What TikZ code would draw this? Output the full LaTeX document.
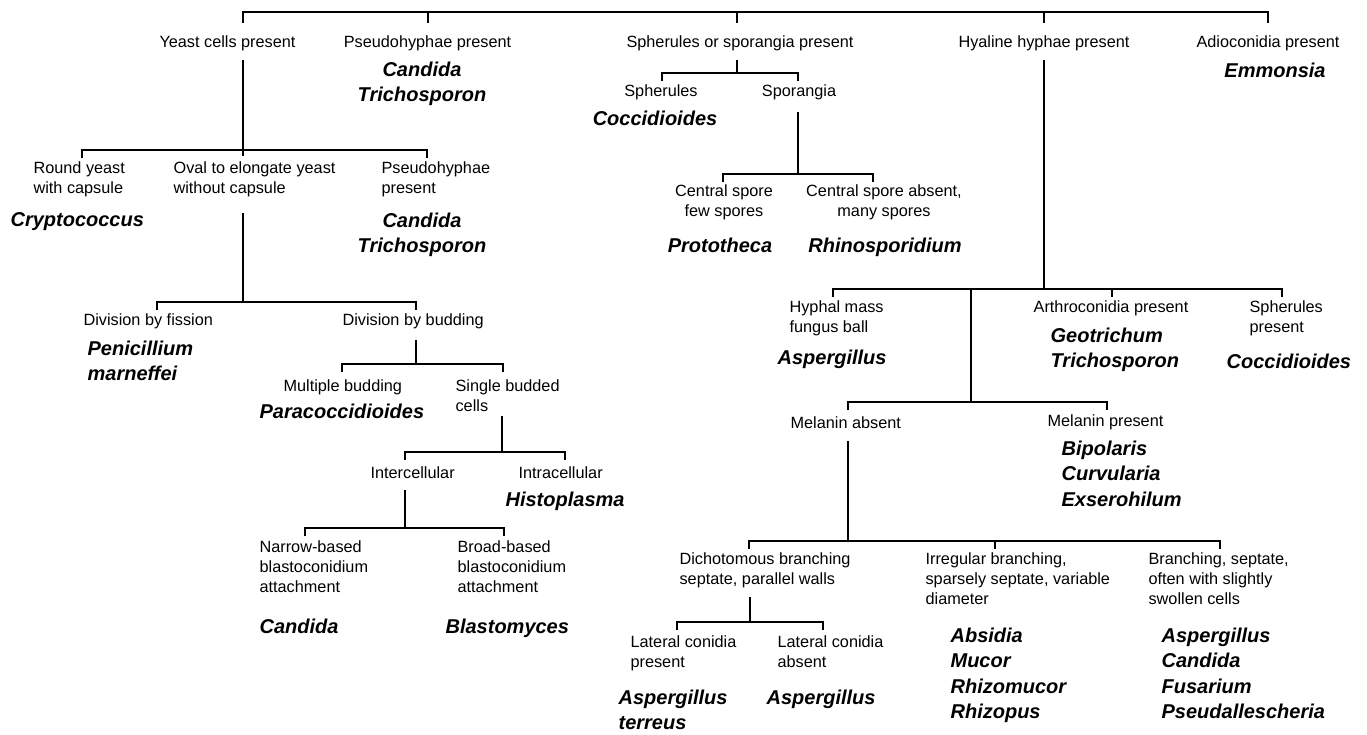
\documentclass[tikz,border=0pt]{standalone}
\usepackage{fontspec}
\setmainfont{Liberation Sans}
\usetikzlibrary{positioning}

\begin{document}
\begin{tikzpicture}[x=0.75pt, y=-0.75pt, line width=0.9pt,
    cue/.style={inner sep=0pt, align=left, font=\fontsize{12.2}{15}\selectfont},
    genus/.style={inner sep=0pt, align=left, font=\fontsize{15}{19.1}\selectfont\bfseries\itshape}]
\useasboundingbox (0,0) rectangle (1367,735);

% First level
\node[cue, anchor=north] (yeast) at (227.5,35.5) {Yeast cells present};
\node[cue, anchor=north] (pseudo) at (427.5,35.5) {Pseudohyphae present};
\node[cue, anchor=north] (spher) at (740,35.5) {Spherules or sporangia present};
\node[cue, anchor=north] (hyaline) at (1044,35.5) {Hyaline hyphae present};
\node[cue, anchor=north] (adio) at (1268,35.5) {Adioconidia present};
\node[genus, align=center, anchor=north] (candidaA) at (422,61) {Candida\\Trichosporon};
\node[genus, anchor=north] (emmonsia) at (1275,62) {Emmonsia};

% Yeast cells
\node[cue, anchor=north west] (round) at (33,161.5) {Round yeast\\with capsule};
\node[cue, anchor=north west] (oval) at (173,161.5) {Oval to elongate yeast\\without capsule};
\node[cue, anchor=north west] (pseudoB) at (381,161.5) {Pseudohyphae\\present};
\node[genus, anchor=north west] (crypto) at (10,212) {Cryptococcus};
\node[genus, align=center, anchor=north] (candidaB) at (422,212) {Candida\\Trichosporon};

% Oval yeast
\node[cue, anchor=north west] (fission) at (83,313.5) {Division by fission};
\node[genus, anchor=north west] (penicillium) at (87,340) {Penicillium\\marneffei};
\node[cue, anchor=north west] (budding) at (342,313.5) {Division by budding};
\node[cue, anchor=north west] (multiple) at (283,379.5) {Multiple budding};
\node[genus, anchor=north west] (paracocci) at (259,403) {Paracoccidioides};
\node[cue, anchor=north west] (single) at (455,379.5) {Single budded\\cells};
\node[cue, anchor=north west] (inter) at (370,466.5) {Intercellular};
\node[cue, anchor=north west] (intra) at (518,466.5) {Intracellular};
\node[genus, anchor=north west] (histo) at (505,491) {Histoplasma};
\node[cue, anchor=north west] (narrow) at (259,540.5) {Narrow-based\\blastoconidium\\attachment};
\node[genus, anchor=north west] (candidaC) at (259,618) {Candida};
\node[cue, anchor=north west] (broad) at (457,540.5) {Broad-based\\blastoconidium\\attachment};
\node[genus, anchor=north west] (blasto) at (445,618) {Blastomyces};

% Spherules or sporangia
\node[cue, anchor=north] (spherules) at (661,84.5) {Spherules};
\node[cue, anchor=north] (sporangia) at (799,84.5) {Sporangia};
\node[genus, anchor=north] (cocciA) at (655,110) {Coccidioides};
\node[cue, align=center, anchor=north] (central) at (724,184.5) {Central spore\\few spores};
\node[cue, align=center, anchor=north] (absent) at (884,184.5) {Central spore absent,\\many spores};
\node[genus, anchor=north] (prototheca) at (720,237) {Prototheca};
\node[genus, anchor=north] (rhino) at (885,237) {Rhinosporidium};

% Hyaline hyphae
\node[cue, anchor=north west] (hyphal) at (789,300.5) {Hyphal mass\\fungus ball};
\node[genus, anchor=north west] (asperA) at (777,349) {Aspergillus};
\node[cue, anchor=north] (arthro) at (1111,300.5) {Arthroconidia present};
\node[genus, anchor=north west] (geo) at (1050,327) {Geotrichum\\Trichosporon};
\node[cue, anchor=north west] (spherP) at (1249,300.5) {Spherules\\present};
\node[genus, anchor=north west] (cocciB) at (1226,353) {Coccidioides};
\node[cue, anchor=north west] (melA) at (790,416.5) {Melanin absent};
\node[cue, anchor=north west] (melP) at (1047,414.5) {Melanin present};
\node[genus, anchor=north west] (bipolaris) at (1061,440) {Bipolaris\\Curvularia\\Exserohilum};

% Melanin absent
\node[cue, anchor=north west] (dicho) at (679,552.5) {Dichotomous branching\\septate, parallel walls};
\node[cue, anchor=north west] (irreg) at (925,552.5) {Irregular branching,\\sparsely septate, variable\\diameter};
\node[cue, anchor=north west] (branch) at (1148,552.5) {Branching, septate,\\often with slightly\\swollen cells};
\node[genus, anchor=north west] (absidia) at (950,627) {Absidia\\Mucor\\Rhizomucor\\Rhizopus};
\node[genus, anchor=north west] (asperC) at (1161,627) {Aspergillus\\Candida\\Fusarium\\Pseudallescheria};
\node[cue, anchor=north west] (latP) at (630,635.5) {Lateral conidia\\present};
\node[genus, anchor=north west] (terreus) at (618,689) {Aspergillus\\terreus};
\node[cue, anchor=north west] (latA) at (777,635.5) {Lateral conidia\\absent};
\node[genus, anchor=north west] (asperB) at (766,689) {Aspergillus};

% Top bracket
\coordinate (yeast-in) at (243,23);
\coordinate (pseudo-in) at (428,23);
\coordinate (spher-in) at (737,23);
\coordinate (hyaline-in) at (1044,23);
\coordinate (adio-in) at (1268,23);
\draw (yeast-in) -- ++(0,-11) -| (adio-in);
\foreach \c in {pseudo,spher,hyaline}
    \draw (\c-in) -- ++(0,-11);

% Yeast bracket
\coordinate (yeast-out) at (243,60);
\coordinate (yeast-jn) at (243,150);
\coordinate (round-in) at (82,158);
\coordinate (oval-in) at (243,156);
\coordinate (pseudoB-in) at (427,158);
\draw (yeast-out) -- (oval-in);
\draw (round-in) |- (yeast-jn) -| (pseudoB-in);

% Oval bracket
\coordinate (oval-out) at (243,213);
\coordinate (oval-jn) at (243,302);
\coordinate (fission-in) at (157,310);
\coordinate (budding-in) at (416,310);
\draw (oval-out) -- (oval-jn);
\draw (fission-in) |- (oval-jn) -| (budding-in);

% Budding bracket
\coordinate (budding-out) at (416,340);
\coordinate (budding-jn) at (416,364);
\coordinate (multiple-in) at (342,372);
\coordinate (single-in) at (503,372);
\draw (budding-out) -- (budding-jn);
\draw (multiple-in) |- (budding-jn) -| (single-in);

% Single budded bracket
\coordinate (single-out) at (502,416);
\coordinate (single-jn) at (502,452);
\coordinate (inter-in) at (405,460);
\coordinate (intra-in) at (565,460);
\draw (single-out) -- (single-jn);
\draw (inter-in) |- (single-jn) -| (intra-in);

% Intercellular bracket
\coordinate (inter-out) at (405,490);
\coordinate (inter-jn) at (405,528);
\coordinate (narrow-in) at (305,536);
\coordinate (broad-in) at (504,536);
\draw (inter-out) -- (inter-jn);
\draw (narrow-in) |- (inter-jn) -| (broad-in);

% Spherules bracket
\coordinate (spher-out) at (737,60);
\coordinate (spher-jn) at (737,73);
\coordinate (spherules-in) at (662,81);
\coordinate (sporangia-in) at (798,81);
\draw (spher-out) -- (spher-jn);
\draw (spherules-in) |- (spher-jn) -| (sporangia-in);

% Sporangia bracket
\coordinate (sporangia-out) at (798,112);
\coordinate (sporangia-jn) at (798,174);
\coordinate (central-in) at (723,182);
\coordinate (absent-in) at (873,182);
\draw (sporangia-out) -- (sporangia-jn);
\draw (central-in) |- (sporangia-jn) -| (absent-in);

% Hyaline bracket
\coordinate (hyaline-out) at (1044,60);
\coordinate (hyaline-jn) at (1044,289);
\coordinate (hyphal-in) at (833,297);
\coordinate (arthro-in) at (1112,297);
\coordinate (spherP-in) at (1282,297);
\coordinate (melanin-out) at (971,289);
\draw (hyaline-out) -- (hyaline-jn);
\draw (hyphal-in) |- (hyaline-jn) -| (spherP-in);
\draw (arthro-in) -- (arthro-in |- hyaline-jn);

% Melanin bracket
\coordinate (melanin-jn) at (971,402);
\coordinate (melA-in) at (848,410);
\coordinate (melP-in) at (1107,410);
\draw (melanin-out) -- (melanin-jn);
\draw (melA-in) |- (melanin-jn) -| (melP-in);

% Melanin absent bracket
\coordinate (melA-out) at (848,441);
\coordinate (melA-jn) at (848,541);
\coordinate (dicho-in) at (749,549);
\coordinate (irreg-in) at (995,549);
\coordinate (branch-in) at (1220,549);
\draw (melA-out) -- (melA-jn);
\draw (dicho-in) |- (melA-jn) -| (branch-in);
\draw (irreg-in) -- (irreg-in |- melA-jn);

% Dichotomous bracket
\coordinate (dicho-out) at (750,597);
\coordinate (dicho-jn) at (750,622);
\coordinate (latP-in) at (677,630);
\coordinate (latA-in) at (823,630);
\draw (dicho-out) -- (dicho-jn);
\draw (latP-in) |- (dicho-jn) -| (latA-in);

\end{tikzpicture}
\end{document}
